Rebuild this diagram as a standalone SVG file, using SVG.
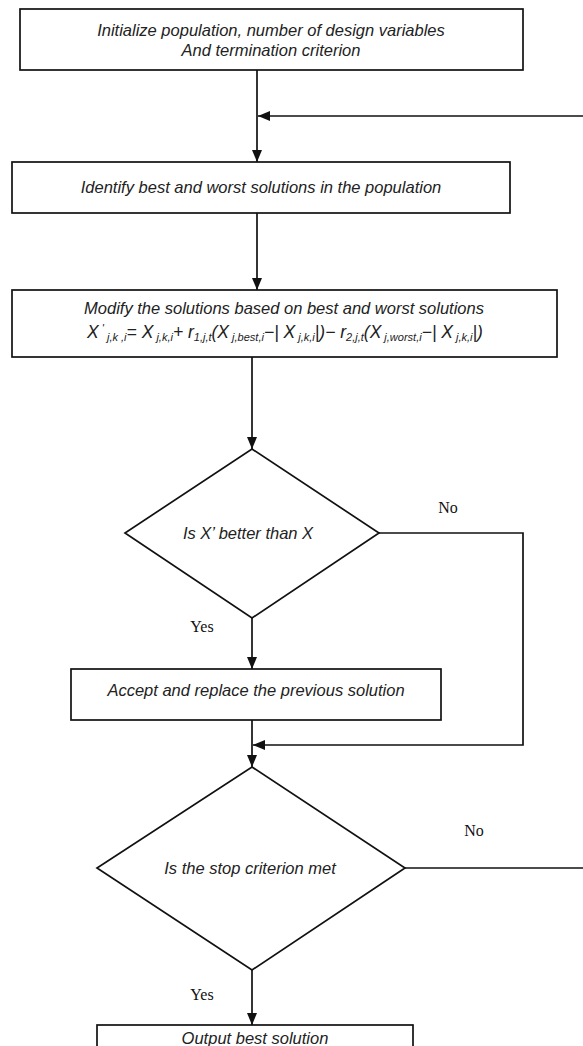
<svg xmlns="http://www.w3.org/2000/svg" width="583" height="1046" viewBox="0 0 583 1046">
<style>
.box{fill:#fff;stroke:#111;stroke-width:1.7}
.t{font-family:"Liberation Sans",Arial,sans-serif;font-style:italic;font-size:16.5px;fill:#222;text-anchor:middle}
.f{font-size:17.5px}
.s{font-size:11px}
.lbl{font-family:"Liberation Serif","Times New Roman",serif;font-size:16px;fill:#111;text-anchor:middle}
.c{fill:none;stroke:#111;stroke-width:1.7}
</style>
<defs>
<marker id="ah" viewBox="0 0 12 10" refX="12" refY="5" markerWidth="12" markerHeight="10" markerUnits="userSpaceOnUse" orient="auto">
<path d="M0,0 L12,5 L0,10 Z" fill="#111"/>
</marker>
</defs>
<rect width="583" height="1046" fill="#fff"/>
<g id="connectors">
<path class="c" d="M257,70 V162" marker-end="url(#ah)"/>
<path class="c" d="M583,116 H258" marker-end="url(#ah)"/>
<path class="c" d="M257,213 V290" marker-end="url(#ah)"/>
<path class="c" d="M252,357 V449" marker-end="url(#ah)"/>
<path class="c" d="M252,618 V669" marker-end="url(#ah)"/>
<path class="c" d="M379,533 H523 V745 H253" marker-end="url(#ah)"/>
<path class="c" d="M252,720 V767" marker-end="url(#ah)"/>
<path class="c" d="M405,868 H583"/>
<path class="c" d="M252,970 V1025" marker-end="url(#ah)"/>
<text class="lbl" x="448" y="513">No</text>
<text class="lbl" x="202" y="632">Yes</text>
<text class="lbl" x="474" y="836">No</text>
<text class="lbl" x="202" y="1000">Yes</text>
</g>
<g id="init">
<rect class="box" x="20" y="9" width="503" height="61"/>
<text class="t" x="271" y="36">Initialize population, number of design variables</text>
<text class="t" x="271" y="56">And termination criterion</text>
</g>
<g id="identify">
<rect class="box" x="12" y="162" width="498" height="51"/>
<text class="t" x="261" y="193">Identify best and worst solutions in the population</text>
</g>
<g id="modify">
<rect class="box" x="12" y="290" width="545" height="67"/>
<text class="t" x="284" y="314">Modify the solutions based on best and worst solutions</text>
<text class="t f" x="285" y="338">X<tspan class="s" dy="-6"> '</tspan><tspan class="s" dy="9"> j,k ,i</tspan><tspan dy="-3">= X</tspan><tspan class="s" dy="3"> j,k,i</tspan><tspan dy="-3">+ r</tspan><tspan class="s" dy="3">1,j,t</tspan><tspan dy="-3">(X</tspan><tspan class="s" dy="3"> j,best,i</tspan><tspan dy="-3">−| X</tspan><tspan class="s" dy="3"> j,k,i</tspan><tspan dy="-3">|)− r</tspan><tspan class="s" dy="3">2,j,t</tspan><tspan dy="-3">(X</tspan><tspan class="s" dy="3"> j,worst,i</tspan><tspan dy="-3">−| X</tspan><tspan class="s" dy="3"> j,k,i</tspan><tspan dy="-3">|)</tspan></text>
</g>
<g id="better">
<polygon class="box" points="252,449 379,533 252,618 125,533"/>
<text class="t" x="248" y="539">Is X’ better than X</text>
</g>
<g id="accept">
<rect class="box" x="71" y="669" width="370" height="51"/>
<text class="t" x="256" y="696">Accept and replace the previous solution</text>
</g>
<g id="stop">
<polygon class="box" points="252,767 405,868 252,970 97,868"/>
<text class="t" x="250" y="874">Is the stop criterion met</text>
</g>
<g id="output">
<rect class="box" x="97" y="1025" width="316" height="40"/>
<text class="t" x="255" y="1044">Output best solution</text>
</g>
</svg>
